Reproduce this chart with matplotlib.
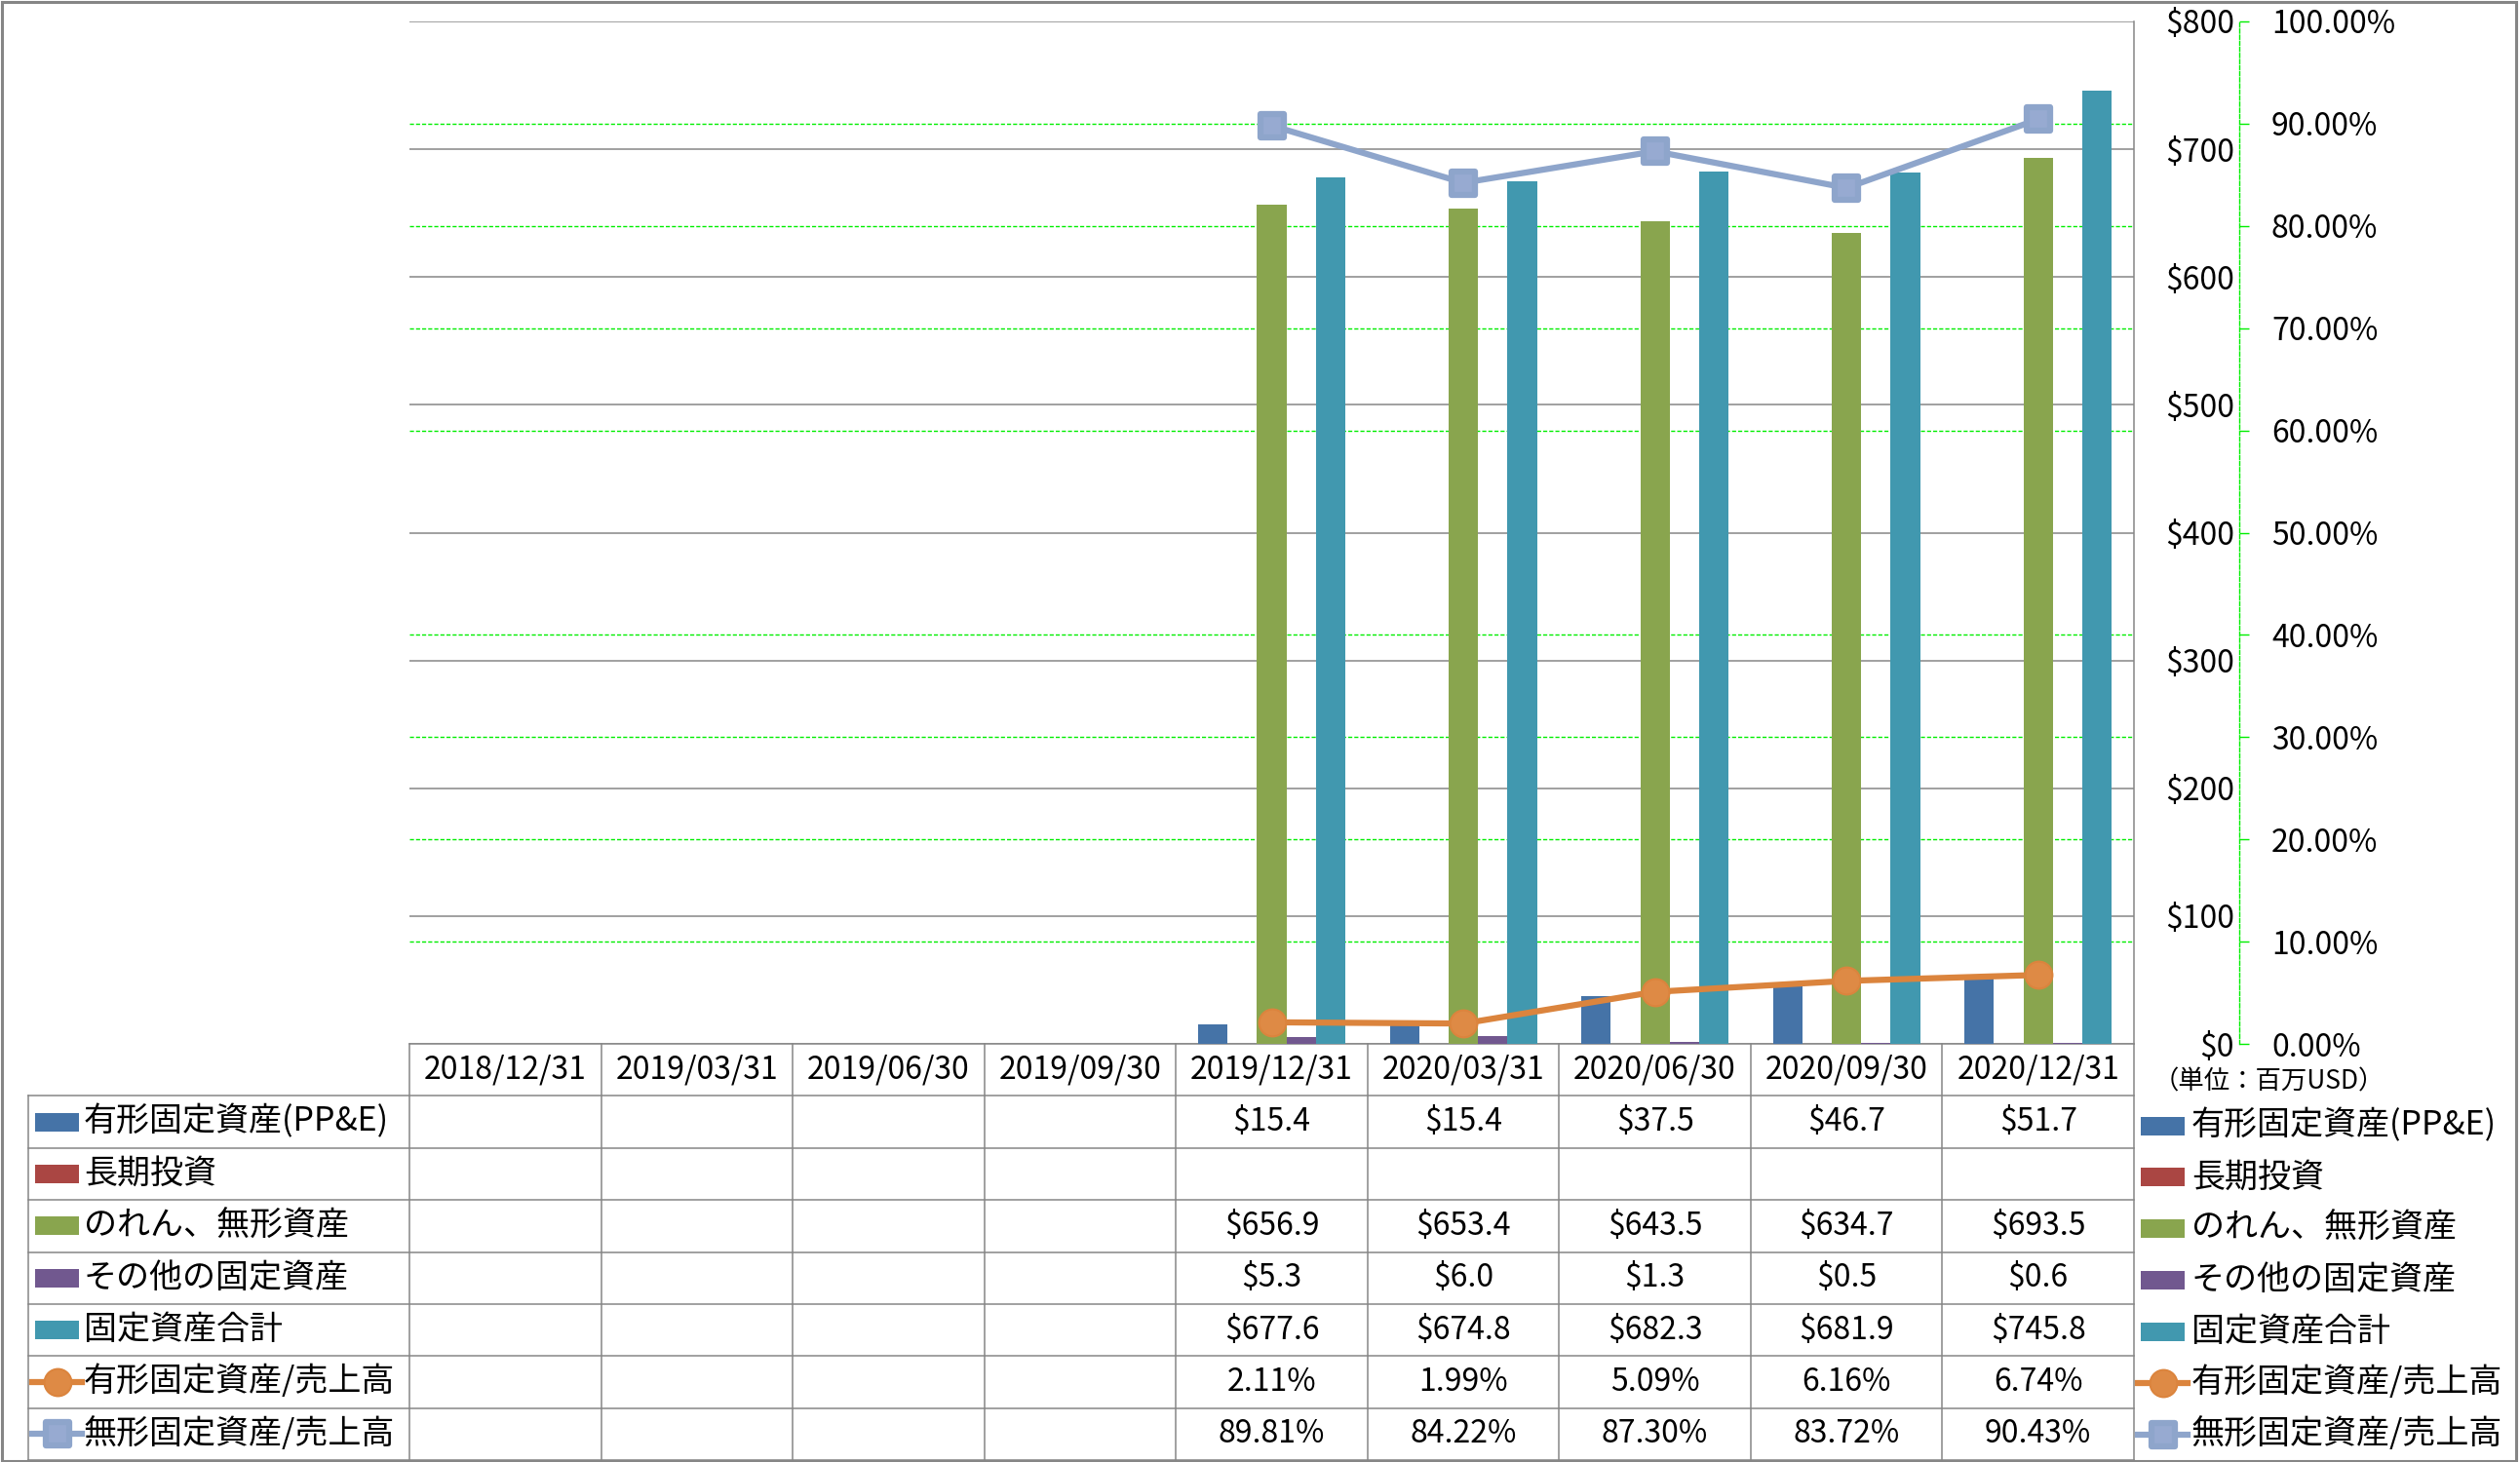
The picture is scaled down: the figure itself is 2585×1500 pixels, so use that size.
import numpy as np
import matplotlib
matplotlib.use("Agg")
import matplotlib.pyplot as plt
from matplotlib.ticker import MultipleLocator, FuncFormatter
from matplotlib.patches import Rectangle
from matplotlib.lines import Line2D
from matplotlib.markers import MarkerStyle

plt.rcParams['font.family'] = ['Noto Sans CJK JP', 'DejaVu Sans']

# data (million USD / percent of sales)
dates = ["2018/12/31", "2019/03/31", "2019/06/30", "2019/09/30", "2019/12/31",
         "2020/03/31", "2020/06/30", "2020/09/30", "2020/12/31"]
ppe = [None, None, None, None, 15.4, 15.4, 37.5, 46.7, 51.7]
long_invest = [None, None, None, None, None, None, None, None, None]
goodwill = [None, None, None, None, 656.9, 653.4, 643.5, 634.7, 693.5]
other_fixed = [None, None, None, None, 5.3, 6.0, 1.3, 0.5, 0.6]
total_fixed = [None, None, None, None, 677.6, 674.8, 682.3, 681.9, 745.8]
ppe_ratio = [None, None, None, None, 2.11, 1.99, 5.09, 6.16, 6.74]
intang_ratio = [None, None, None, None, 89.81, 84.22, 87.30, 83.72, 90.43]

names = ["有形固定資産(PP&E)", "長期投資", "のれん、無形資産", "その他の固定資産",
         "固定資産合計", "有形固定資産/売上高", "無形固定資産/売上高"]
bar_colors = ["#4573A7", "#AA4643", "#89A54E", "#71588F", "#4198AF"]
orange = "#DB843D"
lblue = "#8EA5CB"
grey = "#868686"
green = "#00EE00"

# layout in pixels
W, H = 2585, 1500
PL, PR, PT, PB = 420, 2189, 22, 1071
TB = 1498
ROW_H = (TB - PB) / 8
LEG_L = 29
NUM_FS = 23
LAB_FS = 24.5

fig = plt.figure(figsize=(W / 100, H / 100), dpi=100)

# overlay for table / legend (pixel coordinates)
ov = fig.add_axes([0, 0, 1, 1], zorder=-1)
ov.set_xlim(0, W)
ov.set_ylim(H, 0)
ov.axis('off')

ax = fig.add_axes([PL / W, 1 - PB / H, (PR - PL) / W, (PB - PT) / H])
x = np.arange(len(dates))
w = 0.1536
bar_series = [ppe, long_invest, goodwill, other_fixed, total_fixed]
for i, vals in enumerate(bar_series):
    ax.bar(x + (i - 2) * w, np.array(vals, dtype=float), w, color=bar_colors[i], zorder=2)

ax.set_xlim(-0.5, len(dates) - 0.5)
ax.set_ylim(0, 800)
ax.set_xticks([])
ax.yaxis.set_major_locator(MultipleLocator(100))
ax.yaxis.set_minor_locator(MultipleLocator(80))
ax.yaxis.set_major_formatter(FuncFormatter(lambda v, p: "${:.0f}".format(v)))
ax.grid(axis='y', which='major', color=grey, lw=1.1)
ax.grid(axis='y', which='minor', color=green, lw=1.0, ls=(0, (3, 1.5)))
ax.set_axisbelow(True)
for s in ['top', 'left', 'bottom']:
    ax.spines[s].set_visible(False)
ax.spines['right'].set_color(grey)
ax.spines['right'].set_linewidth(1.1)
ax.patch.set_alpha(0)

ax2 = ax.twinx()
ax2.set_ylim(0, 100)
ax2.yaxis.set_major_locator(MultipleLocator(10))
ax2.yaxis.set_major_formatter(FuncFormatter(lambda v, p: "{:.2f}%".format(v)))
for s in ['top', 'left', 'bottom']:
    ax2.spines[s].set_visible(False)
ax2.spines['right'].set_position(('outward', 77.8))
ax2.spines['right'].set_color(green)
ax2.spines['right'].set_linestyle((0, (3, 1.5)))
ax2.spines['right'].set_linewidth(1.0)
ax2.tick_params(axis='y', color=green, length=7.2, width=1, pad=16.5, labelsize=NUM_FS)

# primary labels sit to the right of the plot (twinx resets them to the left)
ax.yaxis.tick_right()
ax.tick_params(axis='y', which='both', length=0, pad=74, labelsize=NUM_FS,
               labelleft=False, labelright=True)
ax.tick_params(axis='y', which='minor', labelright=False)
for t in ax.yaxis.get_major_ticks():
    t.label2.set_horizontalalignment('right')

ax2.plot(x, np.array(ppe_ratio, dtype=float), color=orange, lw=4.5, marker='o', ms=20,
         mfc="#DE8A45", mec=orange, mew=1.5, zorder=3)
sq = MarkerStyle('s', joinstyle='round')
ax2.plot(x, np.array(intang_ratio, dtype=float), color=lblue, lw=4.5, marker=sq, ms=17,
         mfc="#97AAD1", mec=lblue, mew=4.5, zorder=3)

# data table
col_w = (PR - PL) / len(dates)
lc = dict(color=grey, lw=1.1)
ov.plot([PL, PR], [PB, PB], **lc)
for k in range(len(dates) + 1):
    ov.plot([PL + k * col_w] * 2, [PB, TB], **lc)
for r in range(1, 9):
    ov.plot([LEG_L, PR], [PB + r * ROW_H] * 2, **lc)
ov.plot([LEG_L, LEG_L], [PB + ROW_H, TB], **lc)

for k, d in enumerate(dates):
    ov.text(PL + (k + 0.5) * col_w, PB + ROW_H / 2, d, ha='center', va='center', fontsize=NUM_FS)

rows = [ppe, long_invest, goodwill, other_fixed, total_fixed, ppe_ratio, intang_ratio]
for r, vals in enumerate(rows):
    yc = PB + (r + 1.5) * ROW_H
    for k, v in enumerate(vals):
        if v is None:
            continue
        s = "${:.1f}".format(v) if r < 5 else "{:.2f}%".format(v)
        ov.text(PL + (k + 0.5) * col_w, yc, s, ha='center', va='center', fontsize=NUM_FS)


def legend_key(x0, yc, r):
    if r < 5:
        ov.add_patch(Rectangle((x0 + 3, yc - 9.5), 45, 19, color=bar_colors[r], lw=0))
    elif r == 5:
        ov.add_line(Line2D([x0, x0 + 51], [yc, yc], color=orange, lw=4.5))
        ov.plot([x0 + 25.5], [yc], marker='o', ms=20, mfc="#DE8A45", mec=orange, mew=1.5)
    else:
        ov.add_line(Line2D([x0, x0 + 51], [yc, yc], color=lblue, lw=4.5))
        ov.plot([x0 + 25.5], [yc], marker=sq, ms=17, mfc="#97AAD1", mec=lblue, mew=4.5)


for r, nm in enumerate(names):
    yc = PB + (r + 1.5) * ROW_H
    legend_key(33, yc, r)
    ov.text(86, yc, nm, ha='left', va='center', fontsize=LAB_FS)

# right-hand legend
ov.text(2209, 1110, "（単位：百万USD）", ha='left', va='center', fontsize=19)
for r, nm in enumerate(names):
    yc = 1155 + r * 52.8
    legend_key(2193, yc, r)
    ov.text(2248, yc, nm, ha='left', va='center', fontsize=LAB_FS)

# outer frame
ov.add_patch(Rectangle((1.5, 1.5), 2579, 1497, fill=False, ec=grey, lw=2.2))

fig.savefig("out.png", dpi=100, facecolor='white')
